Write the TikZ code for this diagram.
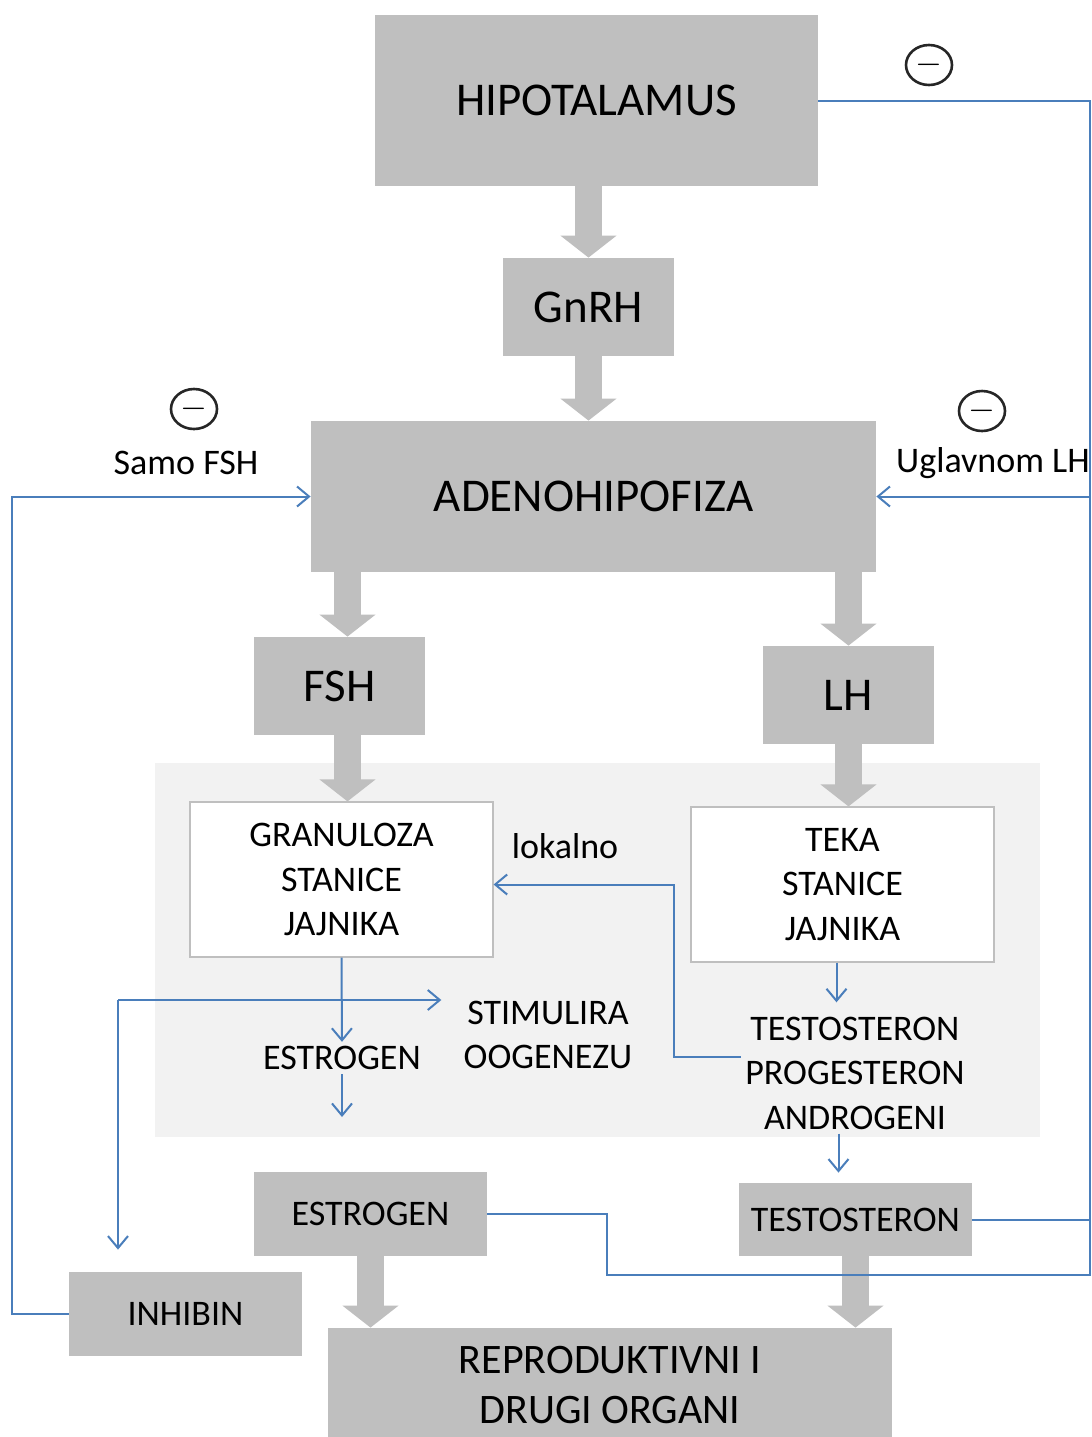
\documentclass[tikz,border=0pt]{standalone}
\usepackage{fontspec}
\setmainfont{Carlito}
\usetikzlibrary{arrows.meta,shapes.geometric}
\definecolor{boxgray}{HTML}{BFBFBF}
\definecolor{panelgray}{HTML}{F2F2F2}
\definecolor{linkblue}{HTML}{4A7EBB}
\begin{document}
\begin{tikzpicture}[x=0.5pt, y=-0.5pt, text=black,
        bigbox/.style={fill=boxgray, inner sep=0pt, font=\fontsize{23.5}{28}\selectfont},
        smallbox/.style={fill=boxgray, inner sep=0pt, align=center, font=\fontsize{18}{22.25}\selectfont},
        cellbox/.style={fill=white, draw=boxgray, line width=0.6pt, align=center, inner sep=0pt,
            minimum width=151.5pt, minimum height=77.5pt, font=\fontsize{18}{22.25}\selectfont},
        plaintext/.style={align=center, inner sep=2pt, font=\fontsize{18}{22.25}\selectfont},
        minus/.style={draw=black!85, line width=1.3pt, ellipse, inner sep=0pt,
            minimum width=23pt, minimum height=20pt, font=\fontsize{16}{16}\selectfont},
        fat/.style={draw=boxgray, line width=13.5pt, -{Triangle[width=27.5pt,length=11pt]}},
        feed/.style={draw=linkblue, line width=1pt},
        feedarrow/.style={feed, -{Straight Barb[length=6pt,width=10pt]}}]
        \useasboundingbox (0,0) rectangle (1092,1437);
        \fill[panelgray] (155,763) rectangle (1040,1137);

        \draw
            (596.5,100.5) node[bigbox, minimum width=221.5pt, minimum height=85.5pt] (hipo) {HIPOTALAMUS}
            (588.5,307) node[bigbox, minimum width=85.5pt, minimum height=49pt] (gnrh) {GnRH}
            (593.5,496.5) node[bigbox, minimum width=282.5pt, minimum height=75.5pt] (adeno) {ADENOHIPOFIZA}
            (339.5,686) node[bigbox, minimum width=85.5pt, minimum height=49pt] (fsh) {FSH}
            (848.5,695) node[bigbox, minimum width=85.5pt, minimum height=49pt] (lh) {LH}
            (341.5,879.5) node[cellbox] (gran) {GRANULOZA\\STANICE\\JAJNIKA}
            (842.5,884.5) node[cellbox] (teka) {TEKA\\STANICE\\JAJNIKA}
            (342,1058) node[plaintext] (estin) {ESTROGEN}
            (548,1035) node[plaintext] (stim) {STIMULIRA\\OOGENEZU}
            (855,1073) node[plaintext] (hormones) {TESTOSTERON\\PROGESTERON\\ANDROGENI}
            (565,846) node[plaintext] (local) {lokalno}
            (370.5,1214) node[smallbox, minimum width=116.5pt, minimum height=42pt] (estro) {\raisebox{-2pt}{ESTROGEN}}
            (855.5,1219.5) node[smallbox, minimum width=116.5pt, minimum height=36.5pt] (testo) {TESTOSTERON}
            (185.5,1314) node[smallbox, minimum width=116.5pt, minimum height=42pt] (inhibin) {\raisebox{-3pt}{INHIBIN}}
            (610,1385) node[smallbox, minimum width=282pt, minimum height=57pt,
                font=\fontsize{21}{25}\selectfont] (organs) {REPRODUKTIVNI I\\DRUGI ORGANI}
            (186,463) node[plaintext] (fshonly) {Samo FSH}
            (993,463) node[plaintext] (mostlylh) {Uglavnom LH}
            (929,65) node[minus] (hipominus) {\(-\)}
            (194,409) node[minus] (fshminus) {\(-\)}
            (982,411) node[minus] (lhminus) {\(-\)}
            ;

        % thick grey arrows
        \draw[fat] (gnrh.north |- hipo.south) -- (gnrh.north);
        \draw[fat] (gnrh.south) -- (gnrh.south |- adeno.north);
        \draw[fat] ([xshift=4pt]fsh.north |- adeno.south) -- ([xshift=4pt]fsh.north);
        \draw[fat] (lh.north |- adeno.south) -- (lh.north);
        \draw[fat] ([xshift=4pt]fsh.south) -- ([xshift=4pt]fsh.south |- gran.north);
        \draw[fat] (lh.south) -- (lh.south |- teka.north);
        \draw[fat] (estro.south) -- (estro.south |- organs.north);
        \draw[fat] (testo.south) -- (testo.south |- organs.north);

        % blue connectors
        \coordinate (estout) at (342,1117);
        \coordinate (split) at (118,1000);
        \coordinate (busbot) at (1090,1275);
        \coordinate (bustop) at (1090,100.5);
        \coordinate (leftbus) at (12,1314);

        \draw[feedarrow] (gran.south) -- (estin.north);
        \draw[feedarrow] (estin.south) -- (estout);
        \draw[feedarrow, shorten >=9pt] (split) -- (split -| stim.west);
        \draw[feedarrow, shorten >=11pt] (split) -- (split |- inhibin.north);
        \draw[feedarrow, shorten >=5pt] ([xshift=-3pt]teka.south) -- ([xshift=-3pt]teka.south |- hormones.north);
        \draw[feedarrow, shorten >=5pt] ([xshift=-2pt]teka.south |- hormones.south) -- ([xshift=-2pt]teka.south |- testo.north);
        \draw[feedarrow] ([yshift=8pt]hormones.west) -- ++(-67,0) |- ([yshift=-2.5pt]gran.east);
        \draw[feed] (estro.east) -- ++(120,0) |- (busbot) -- (bustop) -- (hipo.east);
        \draw[feed] (testo.east) -- (testo.east -| busbot);
        \draw[feedarrow] (adeno.east -| busbot) -- (adeno.east);
        \draw[feedarrow] (inhibin.west) -- (leftbus) |- (adeno.west);
\end{tikzpicture}
\end{document}
